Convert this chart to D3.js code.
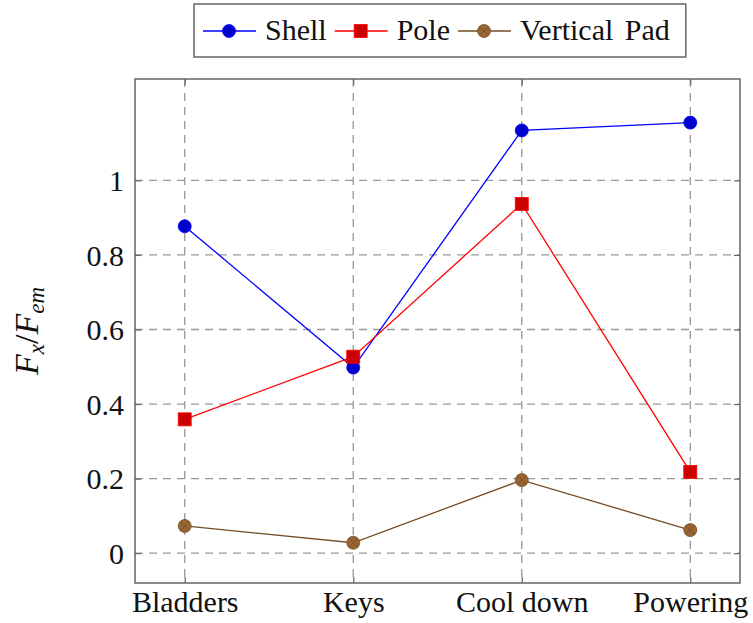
<!DOCTYPE html>
<html lang="en">
<head>
    <meta charset="UTF-8">
    <title>Fx/Fem chart</title>
    <script src="https://d3js.org/d3.v7.min.js"></script>
    <style>
        body { margin: 0; background: #fff; }
        svg { display: block; }
        svg text { font-family: "Liberation Serif", "Times New Roman", Times, serif !important; fill: #111; }
        .grid line { stroke: #999; stroke-width: 1.3; stroke-dasharray: 8 6; }
    </style>
</head>
<body>
    <svg id="chart"></svg>
    <script>
        const categories = ["Bladders", "Keys", "Cool down", "Powering"];
        const shell = [0.877, 0.498, 1.134, 1.155];
        const pole = [0.359, 0.527, 0.937, 0.218];
        const verticalPad = [0.073, 0.028, 0.196, 0.062];
        const yTicks = [0, 0.2, 0.4, 0.6, 0.8, 1];

        const series = [
            { name: "Shell", values: shell, line: "#0000ff", fill: "#0000cc", mark: "circle" },
            { name: "Pole", values: pole, line: "#ff0000", fill: "#cc0000", mark: "square" },
            { name: "Vertical Pad", values: verticalPad, line: "#734d26", fill: "#996633", mark: "otimes" }
        ];

        const width = 753, height = 623;
        const box = { left: 135, right: 740, top: 79, bottom: 583 };

        const svg = d3.select("#chart").attr("width", width).attr("height", height);

        const x = d3.scalePoint()
            .domain(categories)
            .range([box.left, box.right])
            .padding(0.295);

        const y = d3.scaleLinear()
            .domain([-0.08, 1.272])
            .range([box.bottom, box.top]);

        // grid
        const grid = svg.append("g").attr("class", "grid");
        grid.selectAll(".gy").data(yTicks).enter().append("line")
            .attr("x1", box.left).attr("x2", box.right)
            .attr("y1", d => y(d)).attr("y2", d => y(d));
        grid.selectAll(".gx").data(categories).enter().append("line")
            .attr("x1", d => x(d)).attr("x2", d => x(d))
            .attr("y1", box.top).attr("y2", box.bottom);

        // axes (ticks inside, labels outside)
        const yAxis = svg.append("g")
            .attr("transform", `translate(${box.left},0)`)
            .call(d3.axisLeft(y).tickValues(yTicks).tickSize(-6).tickPadding(11).tickFormat(d3.format("")));
        const xAxis = svg.append("g")
            .attr("transform", `translate(0,${box.bottom})`)
            .call(d3.axisBottom(x).tickSize(-6).tickPadding(8));
        const yRight = svg.append("g")
            .attr("transform", `translate(${box.right},0)`)
            .call(d3.axisRight(y).tickValues(yTicks).tickSize(-6).tickFormat(""));
        const xTop = svg.append("g")
            .attr("transform", `translate(0,${box.top})`)
            .call(d3.axisTop(x).tickSize(-6).tickFormat(""));

        [yAxis, xAxis, yRight, xTop].forEach(a => {
            a.select(".domain").remove();
            a.attr("font-family", null);
            a.selectAll(".tick line").attr("stroke", "#666").attr("stroke-width", 1.2);
        });
        yAxis.selectAll(".tick text").attr("font-size", 30).attr("dy", "0.34em");
        xAxis.selectAll(".tick text").attr("font-size", 30);

        // frame
        svg.append("rect")
            .attr("x", box.left).attr("y", box.top)
            .attr("width", box.right - box.left).attr("height", box.bottom - box.top)
            .attr("fill", "none").attr("stroke", "#666").attr("stroke-width", 1.5);

        // y label
        const yl = svg.append("text")
            .attr("transform", `translate(38,${(box.top + box.bottom) / 2}) rotate(-90)`)
            .attr("text-anchor", "middle")
            .attr("font-size", 34)
            .attr("font-style", "italic");
        yl.append("tspan").text("F");
        yl.append("tspan").attr("font-size", 23).attr("dy", 6).text("x");
        yl.append("tspan").attr("dy", -6).attr("font-style", "normal").text("/");
        yl.append("tspan").text("F");
        yl.append("tspan").attr("font-size", 23).attr("dy", 6).text("em");

        function drawMark(g, s, cx, cy) {
            if (s.mark === "circle") {
                g.append("circle").attr("cx", cx).attr("cy", cy).attr("r", 6.5)
                    .attr("fill", s.fill).attr("stroke", s.line).attr("stroke-width", 0.8);
            } else if (s.mark === "square") {
                g.append("rect").attr("x", cx - 6.5).attr("y", cy - 6.5).attr("width", 13).attr("height", 13)
                    .attr("fill", s.fill).attr("stroke", s.line).attr("stroke-width", 0.8);
            } else {
                g.append("circle").attr("cx", cx).attr("cy", cy).attr("r", 6.5)
                    .attr("fill", s.fill).attr("stroke", s.line).attr("stroke-width", 0.8);
                const k = 6.5 * Math.SQRT1_2;
                g.append("path")
                    .attr("d", `M${cx - k},${cy - k}L${cx + k},${cy + k}M${cx - k},${cy + k}L${cx + k},${cy - k}`)
                    .attr("stroke", s.line).attr("stroke-width", 0.8);
            }
        }

        const line = d3.line().x((d, i) => x(categories[i])).y(d => y(d));

        series.forEach(s => {
            const g = svg.append("g");
            g.append("path").datum(s.values)
                .attr("d", line)
                .attr("fill", "none")
                .attr("stroke", s.line)
                .attr("stroke-width", 1.3);
            s.values.forEach((v, i) => drawMark(g, s, x(categories[i]), y(v)));
        });

        // legend
        const legend = svg.append("g");
        const legendBox = legend.append("rect")
            .attr("y", 4).attr("height", 53)
            .attr("fill", "#fff").attr("stroke", "#666").attr("stroke-width", 1.5);
        let lx = 203;
        const ly = 31;
        series.forEach(s => {
            legend.append("line")
                .attr("x1", lx).attr("x2", lx + 53).attr("y1", ly).attr("y2", ly)
                .attr("stroke", s.line).attr("stroke-width", 1.3);
            drawMark(legend, s, lx + 26, ly);
            const t = legend.append("text")
                .attr("x", lx + 62).attr("y", ly + 9)
                .attr("font-size", 30)
                .attr("word-spacing", 4)
                .text(s.name);
            lx += 62 + t.node().getComputedTextLength() + 8;
        });
        legendBox.attr("x", 194).attr("width", lx + 8 - 194);
    </script>
</body>
</html>
